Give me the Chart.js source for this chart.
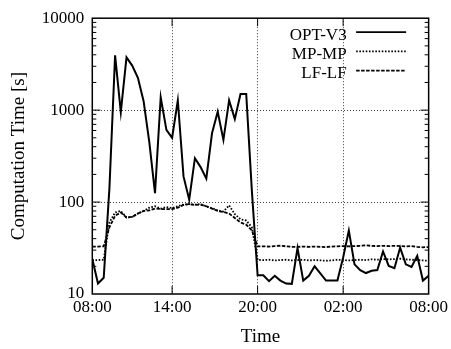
<!DOCTYPE html>
<html>
<head>
<meta charset="utf-8">
<script src="https://cdn.jsdelivr.net/npm/chart.js@4/dist/chart.umd.min.js"></script>
<style>
  html, body { margin: 0; padding: 0; background: #fff; }
  #wrap { width: 451px; height: 349px; }
</style>
</head>
<body>
<div id="wrap"><canvas id="c" width="451" height="349"></canvas></div>
<script>
// Sample times, minutes after 08:00 (one sample every 24 minutes)
const sampleMinutes = [
  24, 48, 72, 96, 120, 144, 168, 192, 216, 240,
  264, 288, 312, 336, 360, 384, 408, 432, 456, 480,
  504, 528, 552, 576, 600, 624, 648, 672, 696, 720,
  744, 768, 792, 816, 840, 864, 888, 912, 936, 960,
  984, 1008, 1032, 1056, 1080, 1104, 1128, 1152, 1176, 1200,
  1224, 1248, 1272, 1296, 1320, 1344, 1368, 1392, 1416, 1440
];

// Computation time in seconds per sample
const optV3 = [
  24, 13, 15, 140, 3950, 950, 3750, 3050, 2250, 1250,
  450, 125, 1380, 610, 500, 1280, 190, 106, 300, 240,
  180, 560, 960, 475, 1280, 800, 1500, 1500, 130, 16,
  16, 13.8, 15.8, 14, 13, 12.9, 31.6, 14, 15.8, 20,
  16.8, 14, 14, 14, 25, 49, 21, 18.2, 16.9, 17.9,
  18.2, 29, 20.2, 19.1, 32, 21, 19.7, 26, 14, 15.8
];
const mpMp = [
  23.4, 23.4, 23.6, 60, 77, 80, 68, 69, 75, 80,
  87, 90, 85, 88, 86, 90, 94, 95, 94, 95,
  90, 86, 81, 79, 92, 74, 65, 63, 53, 23.5,
  23.4, 23.6, 23.2, 23.4, 23.6, 23.2, 23.4, 23.6, 23.2, 23.4,
  23.2, 23, 23.2, 23.6, 23.4, 23.2, 23.4, 23.6, 23.4, 23.8,
  23.6, 24, 23.8, 24, 24.2, 23.8, 23.6, 23.4, 23.2, 23
];
const lfLf = [
  32.8, 32.8, 33, 53, 71, 77, 68, 69, 75, 80,
  81, 85, 84, 84, 84, 87, 93, 95, 93, 94,
  90, 85, 80, 78, 75, 67, 60, 57, 49, 33,
  33, 32.8, 33.2, 33.5, 33, 32.6, 32.5, 32.8, 32.6, 32.8,
  32.6, 32.4, 32.8, 33, 33.2, 33, 33.2, 33.4, 33.8, 33.4,
  33.2, 33.4, 33.2, 33.4, 33.2, 33, 33.2, 32.6, 32.2, 32.4
];

const seriesNames = ['OPT-V3', 'MP-MP', 'LF-LF'];
const yTickValues = [10, 100, 1000, 10000];
const xTickMinutes = [24, 360, 720, 1080, 1440];
const xTickLabels = ['08:00', '14:00', '20:00', '02:00', '08:00'];

const FONT_FAMILY = '"Liberation Serif", "Times New Roman", serif';
const tickFont = { family: FONT_FAMILY, size: 17 };
const titleFont = { family: FONT_FAMILY, size: 19 };
const lineDashes = [[], [1.6, 1.6], [3.5, 1.5]];

const toPoints = vals => vals.map((v, i) => ({ x: sampleMinutes[i], y: v }));

// Frame, inward tick marks (mirrored) and the key in the top-right corner
const framePlugin = {
  id: 'frame',
  afterDatasetsDraw(chart) {
    const { ctx, chartArea: a, scales } = chart;
    const ys = scales.y, xs = scales.x;
    ctx.save();
    ctx.strokeStyle = '#000';
    ctx.lineWidth = 1;
    ctx.setLineDash([]);
    ctx.beginPath();
    for (let k = 1; k <= 4; k++) {
      const dec = Math.pow(10, k);
      const py = ys.getPixelForValue(dec);
      if (k > 1 && k < 4) {
        ctx.moveTo(a.left, py); ctx.lineTo(a.left + 8, py);
        ctx.moveTo(a.right, py); ctx.lineTo(a.right - 8, py);
      }
      if (k < 4) {
        for (let m = 2; m <= 9; m++) {
          const p = ys.getPixelForValue(m * dec);
          ctx.moveTo(a.left, p); ctx.lineTo(a.left + 4, p);
          ctx.moveTo(a.right, p); ctx.lineTo(a.right - 4, p);
        }
      }
    }
    xTickMinutes.slice(1, -1).forEach(v => {
      const px = xs.getPixelForValue(v);
      ctx.moveTo(px, a.bottom); ctx.lineTo(px, a.bottom - 8);
      ctx.moveTo(px, a.top); ctx.lineTo(px, a.top + 8);
    });
    ctx.stroke();

    ctx.lineWidth = 1.5;
    ctx.strokeRect(a.left, a.top, a.right - a.left, a.bottom - a.top);

    // key
    ctx.font = '17px ' + FONT_FAMILY;
    ctx.fillStyle = '#000';
    ctx.textAlign = 'right';
    ctx.textBaseline = 'alphabetic';
    chart.data.datasets.forEach((ds, i) => {
      const ly = a.top + 14 + i * 19.2;
      ctx.fillText(ds.label, a.right - 82, ly + 7.3);
      ctx.beginPath();
      ctx.lineWidth = 1.8;
      ctx.setLineDash(lineDashes[i]);
      ctx.moveTo(a.right - 72.5, ly);
      ctx.lineTo(a.right - 22.5, ly);
      ctx.stroke();
    });
    ctx.restore();
  }
};

const gridColor = (ends) => ctx =>
  (ctx.tick && ends.includes(ctx.tick.value)) ? 'rgba(0,0,0,0)' : 'rgba(0,0,0,0.75)';

new Chart(document.getElementById('c'), {
  type: 'line',
  data: {
    datasets: [
      { label: seriesNames[0], data: toPoints(optV3), borderColor: '#000', borderWidth: 2, borderDash: lineDashes[0] },
      { label: seriesNames[1], data: toPoints(mpMp), borderColor: '#000', borderWidth: 1.8, borderDash: lineDashes[1] },
      { label: seriesNames[2], data: toPoints(lfLf), borderColor: '#000', borderWidth: 1.8, borderDash: lineDashes[2] }
    ]
  },
  options: {
    responsive: false,
    animation: false,
    devicePixelRatio: 1,
    layout: { padding: { top: 9.5, right: 16.7, left: 0, bottom: 0 } },
    elements: { point: { radius: 0 }, line: { tension: 0, fill: false } },
    plugins: { legend: { display: false }, tooltip: { enabled: false } },
    scales: {
      x: {
        type: 'linear',
        position: 'bottom',
        min: xTickMinutes[0],
        max: xTickMinutes[xTickMinutes.length - 1],
        afterBuildTicks: s => { s.ticks = xTickMinutes.map(v => ({ value: v })); },
        afterFit: s => { s.height = 55; },
        ticks: {
          autoSkip: false, maxRotation: 0, padding: 3, color: '#000', font: tickFont,
          callback: v => xTickLabels[xTickMinutes.indexOf(v)]
        },
        grid: { drawTicks: false, lineWidth: 1, color: gridColor([24, 1440]) },
        border: { display: false, dash: [1, 2] },
        title: { display: true, text: 'Time', color: '#000', font: titleFont, padding: { top: 0, bottom: 0.5 } }
      },
      y: {
        type: 'logarithmic',
        position: 'left',
        min: 10,
        max: 10000,
        afterBuildTicks: s => { s.ticks = yTickValues.map(v => ({ value: v })); },
        afterFit: s => { s.width = 92.3; },
        ticks: { padding: 8, color: '#000', font: tickFont, callback: v => String(v) },
        grid: { drawTicks: false, lineWidth: 1, color: gridColor([10, 10000]) },
        border: { display: false, dash: [1, 2] },
        title: { display: true, text: 'Computation Time [s]', color: '#000', font: titleFont, padding: { top: 7.3, bottom: 0 } }
      }
    }
  },
  plugins: [framePlugin]
});
</script>
</body>
</html>
